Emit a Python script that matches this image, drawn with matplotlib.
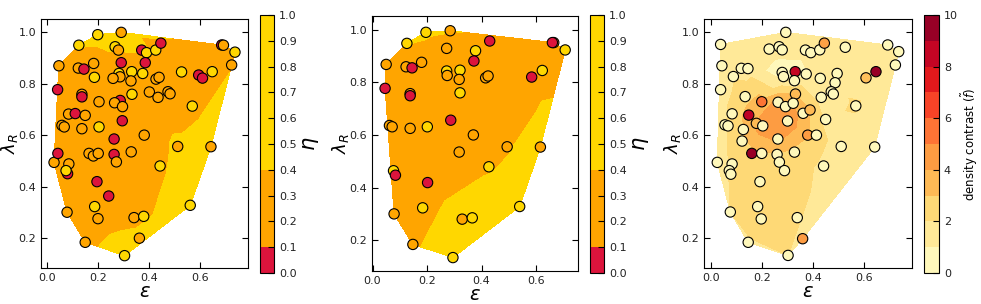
import numpy as np
import matplotlib
matplotlib.use("Agg")
import matplotlib.pyplot as plt
import matplotlib.tri as mtri
from matplotlib.colors import ListedColormap, BoundaryNorm

# ---- panel 1 : full sample, coloured by eta ----
eps1 = [0.200, 0.292, 0.126, 0.268, 0.281, 0.372, 0.391, 0.427, 0.447, 0.685,
        0.692, 0.737, 0.724, 0.648, 0.528, 0.595, 0.610, 0.048, 0.124, 0.146,
        0.184, 0.187, 0.292, 0.283, 0.287, 0.260, 0.333, 0.330, 0.386, 0.376,
        0.428, 0.440, 0.043, 0.138, 0.138, 0.205, 0.334, 0.402, 0.475, 0.483,
        0.436, 0.288, 0.266, 0.297, 0.570, 0.086, 0.112, 0.151, 0.296, 0.060,
        0.069, 0.138, 0.205, 0.382, 0.264, 0.513, 0.643, 0.029, 0.044, 0.087,
        0.082, 0.076, 0.166, 0.183, 0.202, 0.264, 0.273, 0.331, 0.444, 0.197,
        0.243, 0.080, 0.188, 0.201, 0.342, 0.380, 0.562, 0.151, 0.363, 0.305]
lam1 = [0.991, 1.000, 0.950, 0.944, 0.931, 0.931, 0.921, 0.931, 0.958, 0.951,
        0.950, 0.923, 0.873, 0.847, 0.846, 0.834, 0.822, 0.870, 0.861, 0.857,
        0.879, 0.825, 0.882, 0.840, 0.827, 0.821, 0.847, 0.811, 0.882, 0.840,
        0.818, 0.825, 0.777, 0.759, 0.749, 0.730, 0.759, 0.768, 0.769, 0.761,
        0.747, 0.735, 0.726, 0.711, 0.713, 0.682, 0.684, 0.677, 0.656, 0.638,
        0.632, 0.625, 0.632, 0.600, 0.585, 0.556, 0.555, 0.494, 0.529, 0.488,
        0.450, 0.462, 0.529, 0.519, 0.529, 0.525, 0.496, 0.535, 0.480, 0.419,
        0.363, 0.300, 0.322, 0.275, 0.279, 0.284, 0.327, 0.183, 0.199, 0.131]
eta1 = [0.7, 0.25, 0.7, 0.7, 0.25, 0.05, 0.7, 0.7, 0.05, 0.05,
        0.25, 0.7, 0.25, 0.7, 0.7, 0.05, 0.05, 0.25, 0.25, 0.05,
        0.25, 0.7, 0.05, 0.7, 0.25, 0.25, 0.7, 0.25, 0.05, 0.7,
        0.25, 0.25, 0.05, 0.25, 0.05, 0.25, 0.7, 0.25, 0.25, 0.25,
        0.25, 0.05, 0.25, 0.25, 0.7, 0.25, 0.05, 0.25, 0.05, 0.25,
        0.25, 0.25, 0.7, 0.25, 0.05, 0.25, 0.25, 0.25, 0.05, 0.25,
        0.05, 0.7, 0.25, 0.25, 0.25, 0.05, 0.25, 0.25, 0.7, 0.05,
        0.05, 0.25, 0.7, 0.25, 0.25, 0.7, 0.7, 0.25, 0.25, 0.7]
# smoothed eta field behind the points
eta1_bg = [0.50, 0.50, 0.42, 0.46, 0.42, 0.44, 0.30, 0.30, 0.30, 0.30,
           0.30, 0.32, 0.38, 0.30, 0.25, 0.28, 0.28, 0.25, 0.25, 0.25,
           0.25, 0.25, 0.25, 0.25, 0.25, 0.25, 0.25, 0.25, 0.25, 0.25,
           0.25, 0.25, 0.25, 0.25, 0.25, 0.25, 0.25, 0.25, 0.27, 0.27,
           0.25, 0.25, 0.25, 0.25, 0.30, 0.25, 0.25, 0.25, 0.25, 0.25,
           0.25, 0.25, 0.25, 0.25, 0.25, 0.45, 0.60, 0.25, 0.25, 0.25,
           0.25, 0.25, 0.25, 0.25, 0.25, 0.25, 0.25, 0.25, 0.35, 0.25,
           0.25, 0.25, 0.25, 0.25, 0.30, 0.35, 0.60, 0.30, 0.50, 0.60]

# ---- panel 2 : sub-sample, coloured by eta ----
eps2 = [0.126, 0.196, 0.285, 0.272, 0.378, 0.430, 0.665, 0.660, 0.707, 0.623,
        0.584, 0.050, 0.123, 0.145, 0.180, 0.272, 0.274, 0.321, 0.318, 0.372,
        0.415, 0.424, 0.046, 0.138, 0.138, 0.321, 0.287, 0.062, 0.072, 0.138,
        0.201, 0.370, 0.494, 0.616, 0.318, 0.427, 0.077, 0.084, 0.202, 0.079,
        0.184, 0.329, 0.366, 0.540, 0.148, 0.295]
lam2 = [0.948, 0.990, 0.996, 0.929, 0.920, 0.957, 0.951, 0.951, 0.923, 0.845,
        0.820, 0.868, 0.859, 0.855, 0.876, 0.843, 0.826, 0.846, 0.811, 0.881,
        0.817, 0.824, 0.777, 0.757, 0.749, 0.760, 0.656, 0.636, 0.631, 0.625,
        0.631, 0.600, 0.555, 0.554, 0.535, 0.479, 0.464, 0.447, 0.419, 0.300,
        0.323, 0.280, 0.285, 0.328, 0.184, 0.134]
eta2 = [0.7, 0.7, 0.25, 0.25, 0.7, 0.05, 0.25, 0.05, 0.7, 0.7,
        0.05, 0.25, 0.25, 0.05, 0.25, 0.7, 0.25, 0.7, 0.25, 0.05,
        0.25, 0.25, 0.05, 0.25, 0.05, 0.7, 0.05, 0.25, 0.25, 0.25,
        0.7, 0.25, 0.25, 0.25, 0.25, 0.7, 0.7, 0.05, 0.05, 0.25,
        0.7, 0.25, 0.7, 0.7, 0.25, 0.7]
eta2_bg = [0.41, 0.45, 0.42, 0.25, 0.25, 0.25, 0.25, 0.25, 0.25, 0.30,
           0.25, 0.25, 0.25, 0.25, 0.25, 0.25, 0.25, 0.25, 0.25, 0.25,
           0.25, 0.25, 0.25, 0.25, 0.25, 0.25, 0.25, 0.25, 0.25, 0.25,
           0.25, 0.25, 0.37, 0.55, 0.25, 0.37, 0.25, 0.25, 0.25, 0.25,
           0.30, 0.55, 0.55, 0.60, 0.35, 0.60]

# ---- panel 3 : full sample, coloured by density contrast ----
eps3 = [0.294, 0.039, 0.229, 0.268, 0.280, 0.371, 0.392, 0.427, 0.445, 0.527,
        0.693, 0.736, 0.723, 0.647, 0.608, 0.044, 0.120, 0.146, 0.089, 0.039,
        0.280, 0.285, 0.331, 0.328, 0.374, 0.495, 0.487, 0.429, 0.472, 0.480,
        0.433, 0.568, 0.332, 0.135, 0.200, 0.264, 0.293, 0.323, 0.362, 0.389,
        0.450, 0.084, 0.149, 0.179, 0.204, 0.301, 0.056, 0.068, 0.128, 0.380,
        0.414, 0.123, 0.263, 0.511, 0.642, 0.161, 0.200, 0.260, 0.269, 0.328,
        0.289, 0.442, 0.026, 0.084, 0.073, 0.079, 0.193, 0.077, 0.184, 0.198,
        0.339, 0.360, 0.147, 0.303]
lam3 = [1.000, 0.953, 0.935, 0.944, 0.932, 0.931, 0.921, 0.932, 0.958, 0.942,
        0.951, 0.925, 0.873, 0.847, 0.823, 0.870, 0.860, 0.859, 0.828, 0.777,
        0.844, 0.828, 0.847, 0.812, 0.838, 0.840, 0.804, 0.821, 0.769, 0.760,
        0.747, 0.714, 0.760, 0.750, 0.730, 0.728, 0.711, 0.724, 0.685, 0.698,
        0.661, 0.683, 0.678, 0.646, 0.636, 0.655, 0.640, 0.636, 0.622, 0.600,
        0.600, 0.577, 0.585, 0.556, 0.554, 0.529, 0.529, 0.525, 0.495, 0.534,
        0.462, 0.480, 0.494, 0.488, 0.462, 0.448, 0.419, 0.301, 0.322, 0.274,
        0.279, 0.197, 0.183, 0.132]
dens3 = [0.5, 0.5, 0.5, 0.5, 0.5, 0.5, 0.5, 0.5, 4.3, 0.5,
         0.5, 0.5, 0.5, 9.5, 3.3, 0.5, 0.5, 0.5, 0.5, 0.5,
         0.5, 0.5, 8.5, 0.5, 0.5, 0.5, 0.5, 0.5, 0.5, 0.5,
         0.5, 0.5, 3.5, 0.5, 5.5, 0.5, 0.5, 0.5, 0.5, 3.5,
         0.5, 0.5, 8.7, 3.5, 0.5, 0.5, 0.5, 0.5, 0.5, 4.5,
         0.5, 0.5, 0.5, 0.5, 0.5, 9.5, 0.5, 0.5, 0.5, 0.5,
         0.5, 0.5, 0.5, 0.5, 0.5, 0.5, 0.5, 0.5, 0.5, 0.5,
         0.5, 4.5, 0.5, 0.5]
dens3_bg = [1.3, 1.2, 1.4, 1.4, 1.3, 1.3, 1.3, 1.4, 1.5, 1.4,
            1.3, 1.3, 1.3, 1.5, 1.6, 1.3, 1.5, 1.5, 1.9, 1.5,
            0.5, 0.7, 0.6, 0.8, 0.9, 2.1, 1.8, 1.5, 1.6, 1.7,
            1.5, 2.1, 2.9, 2.6, 3.4, 4.3, 4.5, 4.0, 3.6, 3.0,
            1.8, 2.3, 3.4, 4.1, 4.6, 4.7, 1.9, 2.0, 3.0, 3.1,
            2.4, 2.7, 4.2, 1.5, 1.3, 2.7, 2.9, 2.9, 2.8, 2.7,
            2.6, 1.8, 1.5, 2.1, 2.0, 2.1, 2.6, 2.0, 2.5, 2.5,
            2.2, 1.6, 1.9, 2.0]

eta_levels = [0.0, 0.1, 0.4, 1.0]
eta_cmap = ListedColormap(["#dc143c", "#ffa500", "#ffd700"])
eta_norm = BoundaryNorm(eta_levels, eta_cmap.N)
den_levels = np.arange(0, 11, 1)

W, H = 981.0, 304.0


def rect(x0, y0, x1, y1):
    # pixel box (top-left origin) -> figure fraction
    return [x0 / W, (H - y1) / H, (x1 - x0) / W, (y1 - y0) / H]


def style(ax, xlim, xlab_y=-0.058):
    ax.set_xlim(*xlim)
    ax.set_ylim(0.083, 1.052)
    ax.set_xticks([0.0, 0.2, 0.4, 0.6])
    ax.set_yticks([0.2, 0.4, 0.6, 0.8, 1.0])
    ax.tick_params(direction='in', top=True, right=True, labelsize=8,
                   length=4, labelcolor='#222222')
    ax.set_xlabel(r'$\varepsilon$', fontsize=14)
    ax.set_ylabel(r'$\lambda_R$', fontsize=13)
    ax.xaxis.set_label_coords(0.5, xlab_y)
    ax.yaxis.set_label_coords(-0.1, 0.5)


fig = plt.figure(figsize=(W / 100, H / 100), dpi=100)


def eta_panel(box, cbox, eps, lam, eta, bg, xlim, xlab_y):
    ax = fig.add_axes(rect(*box))
    tri = mtri.Triangulation(eps, lam)
    cs = ax.tricontourf(tri, bg, levels=eta_levels, cmap=eta_cmap, norm=eta_norm)
    ax.scatter(eps, lam, c=eta, cmap=eta_cmap, norm=eta_norm, s=55,
               edgecolors='k', linewidths=0.8, zorder=3)
    style(ax, xlim, xlab_y)
    cax = fig.add_axes(rect(*cbox))
    cb = fig.colorbar(cs, cax=cax, spacing='proportional',
                      ticks=np.arange(0, 1.01, 0.1))
    cb.ax.tick_params(direction='in', labelsize=8, length=4, labelcolor='#222222')
    cb.set_label(r'$\eta$', fontsize=15, labelpad=3)
    return ax


eta_panel((41, 19, 248, 268), (260, 15, 274, 273), eps1, lam1, eta1, eta1_bg,
          (-0.022, 0.788), -0.058)
eta_panel((372, 16, 578, 271), (590, 15, 604, 273), eps2, lam2, eta2, eta2_bg,
          (-0.002, 0.754), -0.055)

ax3 = fig.add_axes(rect(704, 19, 912, 268))
tri3 = mtri.Triangulation(eps3, lam3)
cs3 = ax3.tricontourf(tri3, dens3_bg, levels=den_levels, cmap='YlOrRd', vmin=0, vmax=10)
ax3.scatter(eps3, lam3, c=dens3, cmap='YlOrRd', vmin=0, vmax=10, s=55,
            edgecolors='k', linewidths=0.8, zorder=3)
style(ax3, (-0.026, 0.788))
cax3 = fig.add_axes(rect(924, 15, 939, 273))
cb3 = fig.colorbar(cs3, cax=cax3, ticks=[0, 2, 4, 6, 8, 10])
cb3.ax.tick_params(direction='in', labelsize=8, length=4, labelcolor='#222222')
cb3.set_label(r'density contrast ($\tilde{f}$)', fontsize=8.5, labelpad=1)

fig.savefig('out.png', dpi=100)
